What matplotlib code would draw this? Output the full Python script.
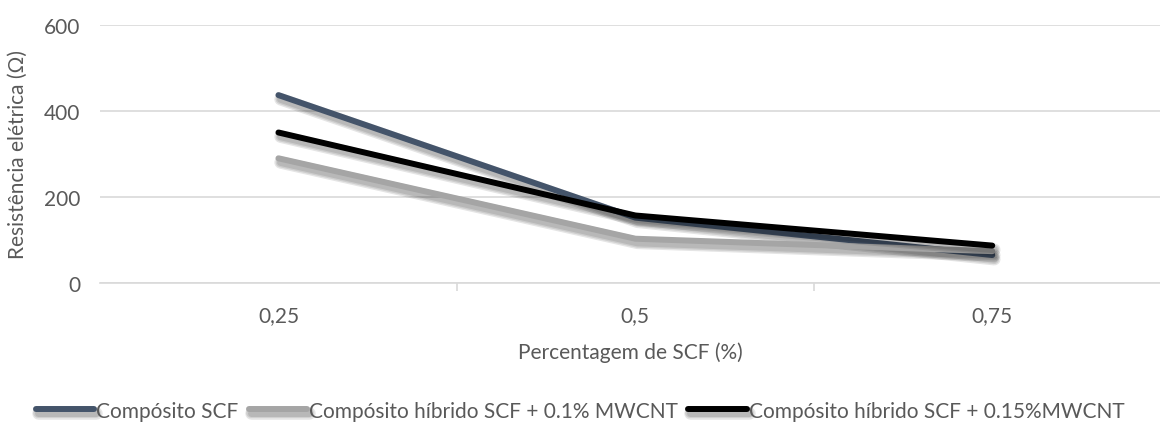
import numpy as np
import matplotlib
matplotlib.use("Agg")
import matplotlib.pyplot as plt
import matplotlib.patheffects as pe

plt.rcParams['font.family'] = ['Lato', 'DejaVu Sans']

categorias = ['0,25', '0,5', '0,75']
scf = [437, 152, 65]
hibrido_01 = [290, 103, 74]
hibrido_015 = [350, 157, 87]

series = [
    ('Compósito SCF', scf, '#44546A'),
    ('Compósito híbrido SCF + 0.1% MWCNT', hibrido_01, '#A5A5A5'),
    ('Compósito híbrido SCF + 0.15%MWCNT', hibrido_015, '#000000'),
]

fig = plt.figure(figsize=(11.6, 4.31), dpi=100)
ax = fig.add_axes([100 / 1160, 147 / 431, 1060 / 1160, 258 / 431])

x = np.arange(len(categorias))
# sombra difusa: várias camadas com larguras crescentes
sombra = [pe.SimpleLineShadow(offset=(1.5, -3), shadow_color='k', alpha=0.10, linewidth=w)
          for w in (9, 7, 5)] + [pe.Normal()]
for nome, vals, cor in series:
    ax.plot(x, vals, color=cor, lw=4.3, label=nome, solid_capstyle='round',
            solid_joinstyle='round', path_effects=sombra)

ax.set_ylim(0, 600)
ax.set_yticks([0, 200, 400, 600])
ax.set_xlim(-0.5, 2.47)
ax.set_xticks(x)
ax.set_xticklabels(categorias)
ax.set_xticks([0.5, 1.5], minor=True)
ax.grid(axis='y', color='#D9D9D9', lw=1.2)
ax.set_axisbelow(True)
for s in ['top', 'right', 'left']:
    ax.spines[s].set_visible(False)
ax.spines['bottom'].set_color('#D9D9D9')
ax.spines['bottom'].set_linewidth(1.2)
ax.tick_params(axis='both', which='major', length=0, labelsize=15, colors='#595959')
ax.tick_params(axis='x', which='minor', length=6, color='#D9D9D9', width=1.2)
ax.tick_params(axis='y', pad=14)
ax.tick_params(axis='x', pad=16)

ax.set_xlabel('Percentagem de SCF (%)', fontsize=15, color='#595959', labelpad=12)
ax.set_ylabel('Resistência elétrica (Ω)', fontsize=15, color='#595959', labelpad=12)

fig.legend(loc='center', bbox_to_anchor=(0.5, 0.045), ncol=3, frameon=False,
           fontsize=15, labelcolor='#595959', handlelength=2.8, handletextpad=0.1,
           columnspacing=0.5)

fig.savefig('out.png', dpi=100)
